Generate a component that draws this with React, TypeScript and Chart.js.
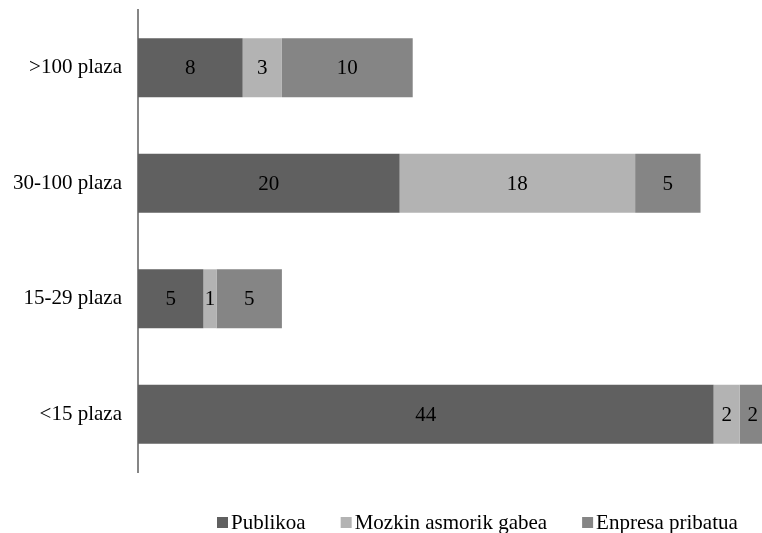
import React, { useEffect, useRef } from "react";
import { Chart, registerables } from "chart.js";

Chart.register(...registerables);

const categories = [">100 plaza", "30-100 plaza", "15-29 plaza", "<15 plaza"];
const seriesNames = ["Publikoa", "Mozkin asmorik gabea", "Enpresa pribatua"];
const publikoa = [8, 20, 5, 44];
const mozkin = [3, 18, 1, 2];
const enpresa = [10, 5, 5, 2];
const seriesColors = ["#606060", "#b3b3b3", "#858585"];

const FONT = '"Liberation Serif", "Times New Roman", serif';

const valueLabels = {
  id: "valueLabels",
  afterDatasetsDraw(chart: any) {
    const ctx = chart.ctx;
    ctx.save();
    ctx.font = `21px ${FONT}`;
    ctx.fillStyle = "#000000";
    ctx.textAlign = "center";
    ctx.textBaseline = "middle";
    chart.data.datasets.forEach((ds: any, i: number) => {
      const meta = chart.getDatasetMeta(i);
      meta.data.forEach((el: any, j: number) => {
        const v = ds.data[j];
        const p = el.getCenterPoint();
        ctx.fillText(String(v), p.x, p.y + 1);
      });
    });
    ctx.restore();
  },
};

const customLegend = {
  id: "customLegend",
  afterDraw(chart: any) {
    const ctx = chart.ctx;
    ctx.save();
    ctx.font = `21px ${FONT}`;
    ctx.textBaseline = "middle";
    ctx.textAlign = "left";
    let x = 217;
    const y = 522;
    chart.data.datasets.forEach((ds: any) => {
      ctx.fillStyle = ds.backgroundColor;
      ctx.fillRect(x, y - 5, 11, 11);
      ctx.fillStyle = "#000000";
      ctx.fillText(ds.label, x + 14, y + 1);
      x += 14 + ctx.measureText(ds.label).width + 35;
    });
    ctx.restore();
  },
};

export default function App() {
  const ref = useRef<HTMLCanvasElement | null>(null);
  useEffect(() => {
    if (!ref.current) return;
    const chart = new Chart(ref.current, {
      type: "bar",
      data: {
        labels: categories,
        datasets: [
          { label: seriesNames[0], data: publikoa, backgroundColor: seriesColors[0] },
          { label: seriesNames[1], data: mozkin, backgroundColor: seriesColors[1] },
          { label: seriesNames[2], data: enpresa, backgroundColor: seriesColors[2] },
        ],
      },
      options: {
        indexAxis: "y",
        animation: false,
        responsive: false,
        maintainAspectRatio: false,
        layout: { padding: { top: 10, bottom: 61, left: 0, right: 0 } },
        datasets: { bar: { categoryPercentage: 1, barPercentage: 0.51 } },
        scales: {
          x: {
            stacked: true,
            min: 0,
            max: 47.7,
            display: false,
          },
          y: {
            stacked: true,
            grid: { display: false, drawTicks: false },
            border: { display: true, color: "#868686", width: 2 },
            ticks: { padding: 16, color: "#000000", font: { family: FONT, size: 21 } },
            afterFit(scale: any) {
              scale.width = 138;
              scale.paddingTop = 0;
              scale.paddingBottom = 0;
            },
          },
        },
        plugins: {
          legend: { display: false },
          tooltip: { enabled: false },
        },
      },
      plugins: [valueLabels, customLegend],
    });
    return () => chart.destroy();
  }, []);
  return (
    <div style={{ position: "absolute", left: 0, top: 0, width: 762, height: 533, overflow: "hidden", background: "#fff" }}>
      <canvas ref={ref} width={762} height={533} />
    </div>
  );
}
